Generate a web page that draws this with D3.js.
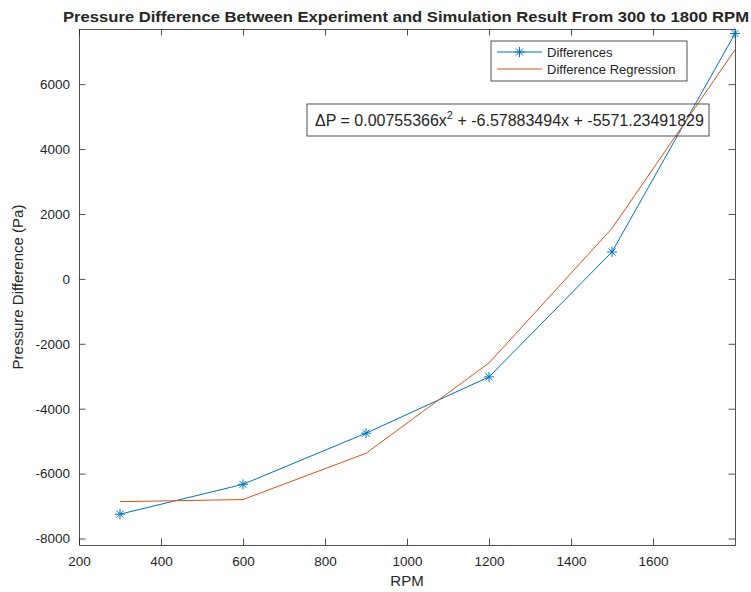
<!DOCTYPE html>
<html>
<head>
  <meta charset="utf-8">
  <title>Pressure Difference</title>
  <script src="https://cdn.jsdelivr.net/npm/d3@7"></script>
  <style>
    body { margin: 0; background: #fff; }
    svg text { font-family: "Liberation Sans", Arial, sans-serif; fill: #262626; }
  </style>
</head>
<body>
<svg id="chart" width="751" height="592"></svg>
<script>
  // data
  var rpm = [300, 600, 900, 1200, 1500, 1800];
  var differences = [-7250, -6330, -4755, -3020, 830, 7560];
  var regression = [-6865, -6799, -5374, -2589, 1556, 7061];
  var xTicks = [200, 400, 600, 800, 1000, 1200, 1400, 1600];
  var yTicks = [-8000, -6000, -4000, -2000, 0, 2000, 4000, 6000];

  var mLeft = 79, mRight = 735, mTop = 29, mBottom = 545;
  var blue = "#0072BD", orange = "#D95319";

  var svg = d3.select("#chart");

  var x = d3.scaleLinear().domain([200, 1800]).range([mLeft, mRight]);
  var y = d3.scaleLinear().domain([-8200, 7700]).range([mBottom, mTop]);
  // plain hyphen minus like matlab
  var fmt = function(d) { return String(d); };

  // axes, ticks inside like matlab
  var tl = 6.5;
  svg.append("g").attr("transform", "translate(0," + mBottom + ")")
    .call(d3.axisBottom(x).tickValues(xTicks).tickFormat(fmt).tickSizeInner(-tl).tickSizeOuter(0).tickPadding(11));
  svg.append("g").attr("transform", "translate(0," + mTop + ")")
    .call(d3.axisTop(x).tickValues(xTicks).tickSizeInner(-tl).tickSizeOuter(0).tickFormat(""));
  svg.append("g").attr("transform", "translate(" + mLeft + ",0)")
    .call(d3.axisLeft(y).tickValues(yTicks).tickFormat(fmt).tickSizeInner(-tl).tickSizeOuter(0).tickPadding(9));
  svg.append("g").attr("transform", "translate(" + mRight + ",0)")
    .call(d3.axisRight(y).tickValues(yTicks).tickSizeInner(-tl).tickSizeOuter(0).tickFormat(""));

  svg.selectAll(".domain").attr("stroke", "#262626").attr("stroke-width", 0.8);
  svg.selectAll(".tick line").attr("stroke", "#262626").attr("stroke-width", 0.8);
  svg.selectAll(".tick text").style("font-size", "13.5px").attr("fill", "#262626");

  // lines
  var line = d3.line().x(function(d) { return x(d[0]); }).y(function(d) { return y(d[1]); });

  var plot = svg.append("g");
  plot.append("path")
    .datum(d3.zip(rpm, differences))
    .attr("fill", "none").attr("stroke", blue).attr("stroke-width", 1)
    .attr("d", line);
  plot.append("path")
    .datum(d3.zip(rpm, regression))
    .attr("fill", "none").attr("stroke", orange).attr("stroke-width", 1)
    .attr("d", line);

  // asterisk markers
  function star(g, cx, cy, r) {
    var p = "M" + (cx - r) + "," + cy + "H" + (cx + r) +
      "M" + cx + "," + (cy - r) + "V" + (cy + r) +
      "M" + (cx - r * 0.7) + "," + (cy - r * 0.7) + "L" + (cx + r * 0.7) + "," + (cy + r * 0.7) +
      "M" + (cx - r * 0.7) + "," + (cy + r * 0.7) + "L" + (cx + r * 0.7) + "," + (cy - r * 0.7);
    g.append("path").attr("d", p).attr("stroke", blue).attr("stroke-width", 1).attr("fill", "none");
  }
  d3.zip(rpm, differences).forEach(function(d) { star(plot, x(d[0]), y(d[1]), 5); });

  // legend
  var lg = svg.append("g");
  lg.append("rect").attr("x", 491).attr("y", 41).attr("width", 196).attr("height", 40)
    .attr("fill", "#fff").attr("stroke", "#262626").attr("stroke-width", 0.8);
  lg.append("line").attr("x1", 497).attr("x2", 542).attr("y1", 52).attr("y2", 52)
    .attr("stroke", blue).attr("stroke-width", 1);
  star(lg, 519.5, 52, 5);
  lg.append("line").attr("x1", 497).attr("x2", 542).attr("y1", 69).attr("y2", 69)
    .attr("stroke", orange).attr("stroke-width", 1);
  lg.append("text").attr("x", 547).attr("y", 56.5).style("font-size", "13px").text("Differences");
  lg.append("text").attr("x", 547).attr("y", 73.5).style("font-size", "13px").text("Difference Regression");

  // equation annotation
  svg.append("rect").attr("x", 307).attr("y", 104).attr("width", 402).attr("height", 32)
    .attr("fill", "none").attr("stroke", "#262626").attr("stroke-width", 0.8);
  var eq = svg.append("text").attr("x", 315).attr("y", 126).style("font-size", "16px").attr("fill", "#000");
  eq.append("tspan").text("\u0394P = 0.00755366x");
  eq.append("tspan").attr("dy", -7).style("font-size", "11px").text("2");
  eq.append("tspan").attr("dy", 7).text(" + -6.57883494x + -5571.23491829");

  // title and labels
  svg.append("text").attr("x", 406).attr("y", 22).attr("text-anchor", "middle")
    .style("font-size", "15px").style("font-weight", "bold").attr("fill", "#000")
    .attr("textLength", 686).attr("lengthAdjust", "spacingAndGlyphs")
    .text("Pressure Difference Between Experiment and Simulation Result From 300 to 1800 RPM");
  svg.append("text").attr("x", 407).attr("y", 586).attr("text-anchor", "middle")
    .style("font-size", "15px").text("RPM");
  svg.append("text").attr("transform", "translate(23,287) rotate(-90)").attr("text-anchor", "middle")
    .style("font-size", "15px").text("Pressure Difference (Pa)");
</script>
</body>
</html>
